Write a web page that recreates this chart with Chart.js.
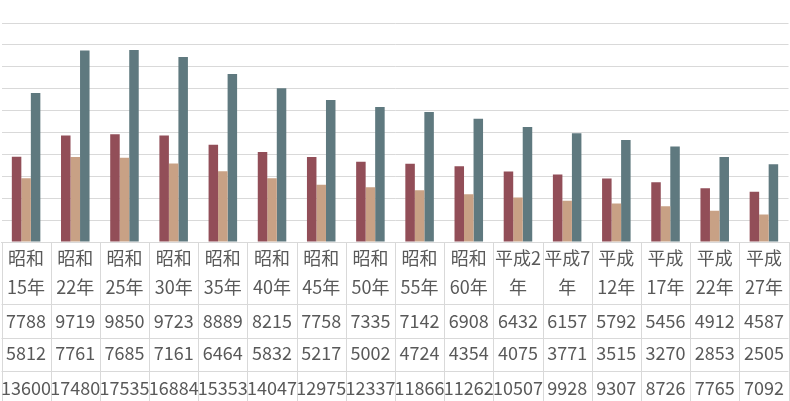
<!DOCTYPE html>
<html>
<head>
<meta charset="utf-8">
<script src="https://cdn.jsdelivr.net/npm/chart.js@4"></script>
<style>
html,body{margin:0;padding:0;background:#fff;}
#wrap{width:790px;height:401px;position:relative;}
</style>
</head>
<body>
<div id="wrap"><canvas id="c" width="790" height="401"></canvas></div>
<script>
const categories = ['昭和15年','昭和22年','昭和25年','昭和30年','昭和35年','昭和40年','昭和45年','昭和50年','昭和55年','昭和60年','平成2年','平成7年','平成12年','平成17年','平成22年','平成27年'];
const labelLine1 = ['昭和','昭和','昭和','昭和','昭和','昭和','昭和','昭和','昭和','昭和','平成2','平成7','平成','平成','平成','平成'];
const labelLine2 = ['15年','22年','25年','30年','35年','40年','45年','50年','55年','60年','年','年','12年','17年','22年','27年'];
const series1 = [7788,9719,9850,9723,8889,8215,7758,7335,7142,6908,6432,6157,5792,5456,4912,4587];
const series2 = [5812,7761,7685,7161,6464,5832,5217,5002,4724,4354,4075,3771,3515,3270,2853,2505];
const series3 = [13600,17480,17535,16884,15353,14047,12975,12337,11866,11262,10507,9928,9307,8726,7765,7092];
const yMax = 20000;
const yStep = 2000;

const colors = ['#924E58','#C8A185','#5F797F'];
const gridColor = '#D9D9D9';
const textColor = '#595959';
const fontFamily = '"Noto Sans CJK JP", "Noto Sans", sans-serif';

const tablePlugin = {
  id: 'dataTable',
  afterDraw(chart) {
    const ctx = chart.ctx;
    const xs = chart.scales.x;
    const area = chart.chartArea;
    const n = categories.length;
    const half = (xs.getPixelForValue(1) - xs.getPixelForValue(0)) / 2;
    const top = area.bottom;
    const rowY = [top, top + 62, top + 95.5, top + 129, 401];
    ctx.save();
    ctx.strokeStyle = gridColor;
    ctx.lineWidth = 1;
    // horizontal lines
    for (let r = 1; r < 4; r++) {
      const y = Math.round(rowY[r]) + 0.5;
      ctx.beginPath();
      ctx.moveTo(area.left, y);
      ctx.lineTo(area.right, y);
      ctx.stroke();
    }
    // vertical lines
    for (let i = 0; i <= n; i++) {
      const x = Math.round(xs.getPixelForValue(0) - half + i * 2 * half) + 0.5;
      ctx.beginPath();
      ctx.moveTo(x, top);
      ctx.lineTo(x, 401);
      ctx.stroke();
    }
    ctx.fillStyle = textColor;
    ctx.font = '18px ' + fontFamily;
    ctx.textAlign = 'center';
    ctx.textBaseline = 'middle';
    const rows = [series1, series2, series3];
    const rowCenters = [top + 79, top + 111.5, top + 146];
    for (let i = 0; i < n; i++) {
      const cx = xs.getPixelForValue(i);
      ctx.fillText(labelLine1[i], cx, top + 16.5);
      ctx.fillText(labelLine2[i], cx, top + 45);
      rows.forEach((s, r) => {
        ctx.fillText(String(s[i]), cx, rowCenters[r]);
      });
    }
    ctx.restore();
  }
};

new Chart(document.getElementById('c'), {
  type: 'bar',
  data: {
    labels: categories,
    datasets: [
      { label: 's1', data: series1, backgroundColor: colors[0] },
      { label: 's2', data: series2, backgroundColor: colors[1] },
      { label: 's3', data: series3, backgroundColor: colors[2] }
    ]
  },
  options: {
    responsive: false,
    animation: false,
    devicePixelRatio: 1,
    layout: { padding: { top: 23, left: 1.5, right: 1.5, bottom: 0 } },
    plugins: { legend: { display: false }, tooltip: { enabled: false } },
    datasets: { bar: { categoryPercentage: 0.58, barPercentage: 1 } },
    scales: {
      x: {
        ticks: { display: false },
        grid: { display: false },
        border: { display: true, color: gridColor },
        afterFit(scale) { scale.height = 159; }
      },
      y: {
        min: 0, max: yMax,
        ticks: { display: false, stepSize: yStep },
        grid: { color: gridColor, drawTicks: false },
        border: { display: false },
        afterFit(scale) { scale.width = 0; }
      }
    }
  },
  plugins: [tablePlugin]
});
</script>
</body>
</html>
